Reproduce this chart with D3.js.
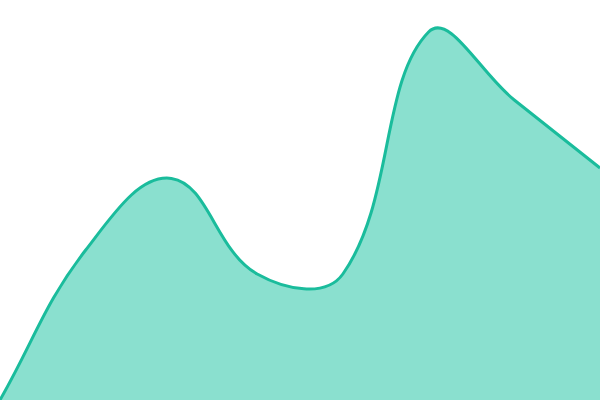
<!DOCTYPE html>
<html><head><meta charset="utf-8">
<script src="https://cdn.jsdelivr.net/npm/d3@7"></script>
<style>html,body{margin:0;padding:0;background:#fff;}svg{display:block;}</style>
</head><body>
<svg id="c" width="600" height="400"></svg>
<script>
const categories = [0, 1, 2, 3, 4, 5, 6, 7];
const values = [0, 37.5, 55.4, 31.5, 31.5, 92, 75, 58];

const W = 600, H = 400;

// Chart.js-style spline (tension 0.4, distance-weighted control points)
function SplineCurve(context, tension) { this._context = context; this._t = tension; }
SplineCurve.prototype = {
  areaStart() { this._line = 0; },
  areaEnd() { this._line = NaN; },
  lineStart() { this._pts = []; },
  point(x, y) { this._pts.push([+x, +y]); },
  lineEnd() {
    const p = this._pts, n = p.length, ctx = this._context, t = this._t;
    const cap = (v, lo, hi) => Math.max(lo, Math.min(hi, v));
    if (n) {
      if (this._line) ctx.lineTo(p[0][0], p[0][1]); else ctx.moveTo(p[0][0], p[0][1]);
      const cps = p.map((cur, i) => {
        const prev = p[i - 1] || cur, next = p[i + 1] || cur;
        const d01 = Math.hypot(cur[0] - prev[0], cur[1] - prev[1]);
        const d12 = Math.hypot(next[0] - cur[0], next[1] - cur[1]);
        let s01 = d01 / (d01 + d12), s12 = d12 / (d01 + d12);
        if (isNaN(s01)) s01 = 0; if (isNaN(s12)) s12 = 0;
        const fa = t * s01, fb = t * s12;
        return {
          px: cap(cur[0] - fa * (next[0] - prev[0]), 0, W), py: cap(cur[1] - fa * (next[1] - prev[1]), 0, H),
          nx: cap(cur[0] + fb * (next[0] - prev[0]), 0, W), ny: cap(cur[1] + fb * (next[1] - prev[1]), 0, H)
        };
      });
      for (let i = 1; i < n; i++) {
        ctx.bezierCurveTo(cps[i - 1].nx, cps[i - 1].ny, cps[i].px, cps[i].py, p[i][0], p[i][1]);
      }
    }
    if (this._line || (this._line !== 0 && n === 1)) ctx.closePath();
    this._line = 1 - this._line;
  }
};
const spline = ctx => new SplineCurve(ctx, 0.4);

const svg = d3.select("#c");
const x = d3.scaleLinear().domain([0, categories.length - 1]).range([0, W]);
const y = d3.scaleLinear().domain([0, 100]).range([H, 0]);
const data = categories.map((c, i) => ({c, v: values[i]}));

const area = d3.area().x(d => x(d.c)).y0(H).y1(d => y(d.v)).curve(spline);
const line = d3.line().x(d => x(d.c)).y(d => y(d.v)).curve(spline);

svg.append("path").datum(data).attr("d", area).attr("fill", "#8AE0CF");
svg.append("path").datum(data).attr("d", line).attr("fill", "none").attr("stroke", "#1ABC9C").attr("stroke-width", 3);
</script>
</body></html>
